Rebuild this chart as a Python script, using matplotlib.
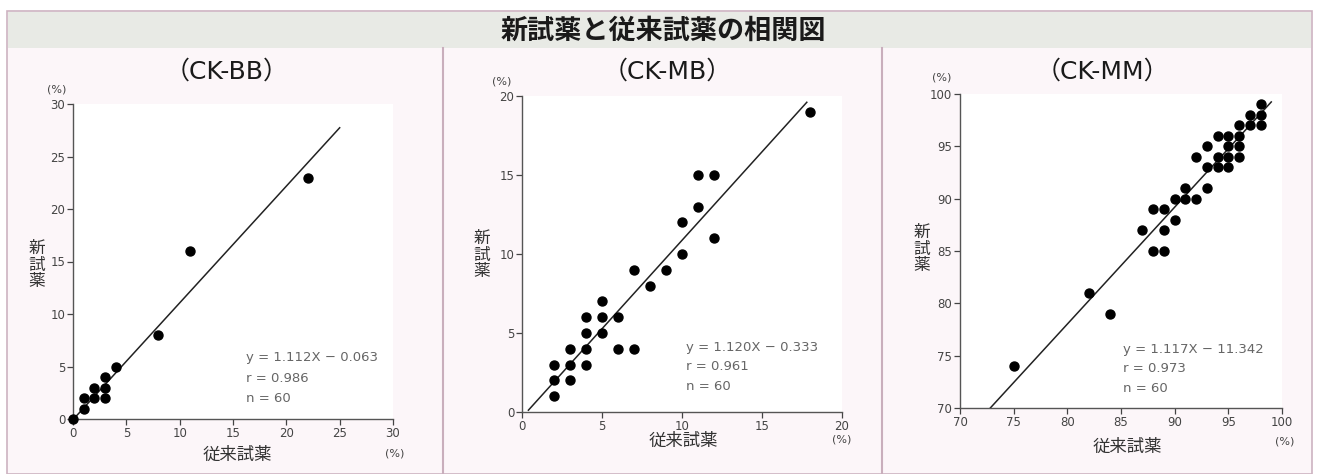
import matplotlib
matplotlib.use("Agg")
import matplotlib.pyplot as plt
from matplotlib.patches import Rectangle
from matplotlib.lines import Line2D

plt.rcParams['font.family'] = ['DejaVu Sans', 'Noto Sans CJK JP']

W, H = 1319, 474

# ---- data ----
bb_x = [0, 1, 1, 2, 2, 3, 3, 3, 4, 8, 11, 22]
bb_y = [0, 1, 2, 2, 3, 2, 3, 4, 5, 8, 16, 23]
bb_fit = (1.112, -0.063)
bb_line_x = [0, 25]
bb_stats = ["y = 1.112X \u2212 0.063", "r = 0.986", "n = 60"]

mb_x = [2, 2, 2, 3, 3, 3, 4, 4, 4, 4, 5, 5, 5, 6, 6, 7, 7, 8, 9, 10, 10, 11, 11, 12, 12, 18]
mb_y = [1, 2, 3, 2, 3, 4, 3, 4, 5, 6, 5, 6, 7, 6, 4, 4, 9, 8, 9, 10, 12, 13, 15, 11, 15, 19]
mb_fit = (1.120, -0.333)
mb_line_x = [0.4, 17.8]
mb_stats = ["y = 1.120X \u2212 0.333", "r = 0.961", "n = 60"]

mm_x = [75, 82, 84, 87, 88, 88, 89, 89, 89, 90, 90, 91, 91, 92, 92, 93, 93, 93,
        94, 94, 94, 95, 95, 95, 95, 96, 96, 96, 96, 97, 97, 98, 98, 98]
mm_y = [74, 81, 79, 87, 89, 85, 89, 87, 85, 88, 90, 90, 91, 90, 94, 95, 93, 91,
        96, 94, 93, 96, 95, 94, 93, 97, 96, 95, 94, 98, 97, 99, 98, 97]
mm_fit = (1.117, -11.342)
mm_line_x = [72.75, 99.0]
mm_stats = ["y = 1.117X \u2212 11.342", "r = 0.973", "n = 60"]

main_title = "新試薬と従来試薬の相関図"
x_label = "従来試薬"
y_label = "新\n試\n薬"

panels = [
    dict(title="（CK-BB）", x=bb_x, y=bb_y, fit=bb_fit, lx=bb_line_x, stats=bb_stats,
         lim=(0, 30), ticks=[0, 5, 10, 15, 20, 25, 30],
         box=(73, 104, 393, 419), title_xy=(227, 72), ylab_xy=(37, 265),
         xlab_xy=(237, 455), xpct=(395, 453), ypct=(57, 90), stat_xy=(246, 358)),
    dict(title="（CK-MB）", x=mb_x, y=mb_y, fit=mb_fit, lx=mb_line_x, stats=mb_stats,
         lim=(0, 20), ticks=[0, 5, 10, 15, 20],
         box=(522, 96, 842, 412), title_xy=(667, 72), ylab_xy=(482, 255),
         xlab_xy=(683, 441), xpct=(842, 439), ypct=(502, 82), stat_xy=(686, 347)),
    dict(title="（CK-MM）", x=mm_x, y=mm_y, fit=mm_fit, lx=mm_line_x, stats=mm_stats,
         lim=(70, 100), ticks=[70, 75, 80, 85, 90, 95, 100],
         box=(960, 94, 1282, 408), title_xy=(1102, 72), ylab_xy=(922, 249),
         xlab_xy=(1127, 447), xpct=(1285, 442), ypct=(942, 78), stat_xy=(1123, 349)),
]


def fx(px):
    return px / W


def fy(py):
    return 1 - py / H


fig = plt.figure(figsize=(W / 100, H / 100), dpi=100, facecolor="white")

# frame, grey title band and panel dividers (kept behind the axes)
fig.patches.append(Rectangle((fx(7), 0), fx(1312) - fx(7), fy(11), transform=fig.transFigure,
                             facecolor="#fcf6f9", edgecolor="#cdb3c1", linewidth=1.2, zorder=-5))
fig.patches.append(Rectangle((fx(8), fy(48)), fx(1311) - fx(8), fy(12) - fy(48), transform=fig.transFigure,
                             facecolor="#e8eae5", edgecolor="none", zorder=-4))
for xd in (443, 882):
    fig.lines.append(Line2D([fx(xd), fx(xd)], [0, fy(48)], transform=fig.transFigure,
                            color="#c9aebc", linewidth=1.5, zorder=-3))
fig.text(fx(663), fy(31), main_title, ha="center", va="center", fontsize=19.5,
         color="#1a1a1a", family=['Noto Sans CJK JP'], weight="bold")

for p in panels:
    x0, y0, x1, y1 = p["box"]
    ax = fig.add_axes([fx(x0), fy(y1), fx(x1) - fx(x0), fy(y0) - fy(y1)])
    ax.set_zorder(2)
    ax.set_facecolor("white")
    ax.scatter(p["x"], p["y"], s=42, color="black", zorder=3, clip_on=False)
    a, b = p["fit"]
    ax.plot(p["lx"], [a * v + b for v in p["lx"]], color="#222", linewidth=1.1, zorder=2)
    ax.set_xlim(*p["lim"])
    ax.set_ylim(*p["lim"])
    ax.set_xticks(p["ticks"])
    ax.set_yticks(p["ticks"])
    ax.tick_params(labelsize=8.5, colors="#444", length=4, width=0.9, direction="out", pad=1.5)
    for s in ("top", "right"):
        ax.spines[s].set_visible(False)
    for s in ("left", "bottom"):
        ax.spines[s].set_color("#555")
        ax.spines[s].set_linewidth(1.0)

    fig.text(fx(p["title_xy"][0]), fy(p["title_xy"][1]), p["title"], ha="center", va="center",
             fontsize=18, color="#1a1a1a")
    fig.text(fx(p["ylab_xy"][0]), fy(p["ylab_xy"][1]), y_label, ha="center", va="center",
             fontsize=12, color="#333", linespacing=0.95, family=['Noto Sans CJK JP'])
    fig.text(fx(p["xlab_xy"][0]), fy(p["xlab_xy"][1]), x_label, ha="center", va="center",
             fontsize=12.5, color="#333", family=['Noto Sans CJK JP'])
    fig.text(fx(p["xpct"][0]), fy(p["xpct"][1]), "(%)", ha="center", va="center",
             fontsize=8, color="#444")
    fig.text(fx(p["ypct"][0]), fy(p["ypct"][1]), "(%)", ha="center", va="center",
             fontsize=8, color="#444")
    sx, sy = p["stat_xy"]
    for i, line in enumerate(p["stats"]):
        fig.text(fx(sx), fy(sy + i * 20), line, ha="left", va="center",
                 fontsize=9.5, color="#666")

fig.savefig("out.png", dpi=100, facecolor="white")
